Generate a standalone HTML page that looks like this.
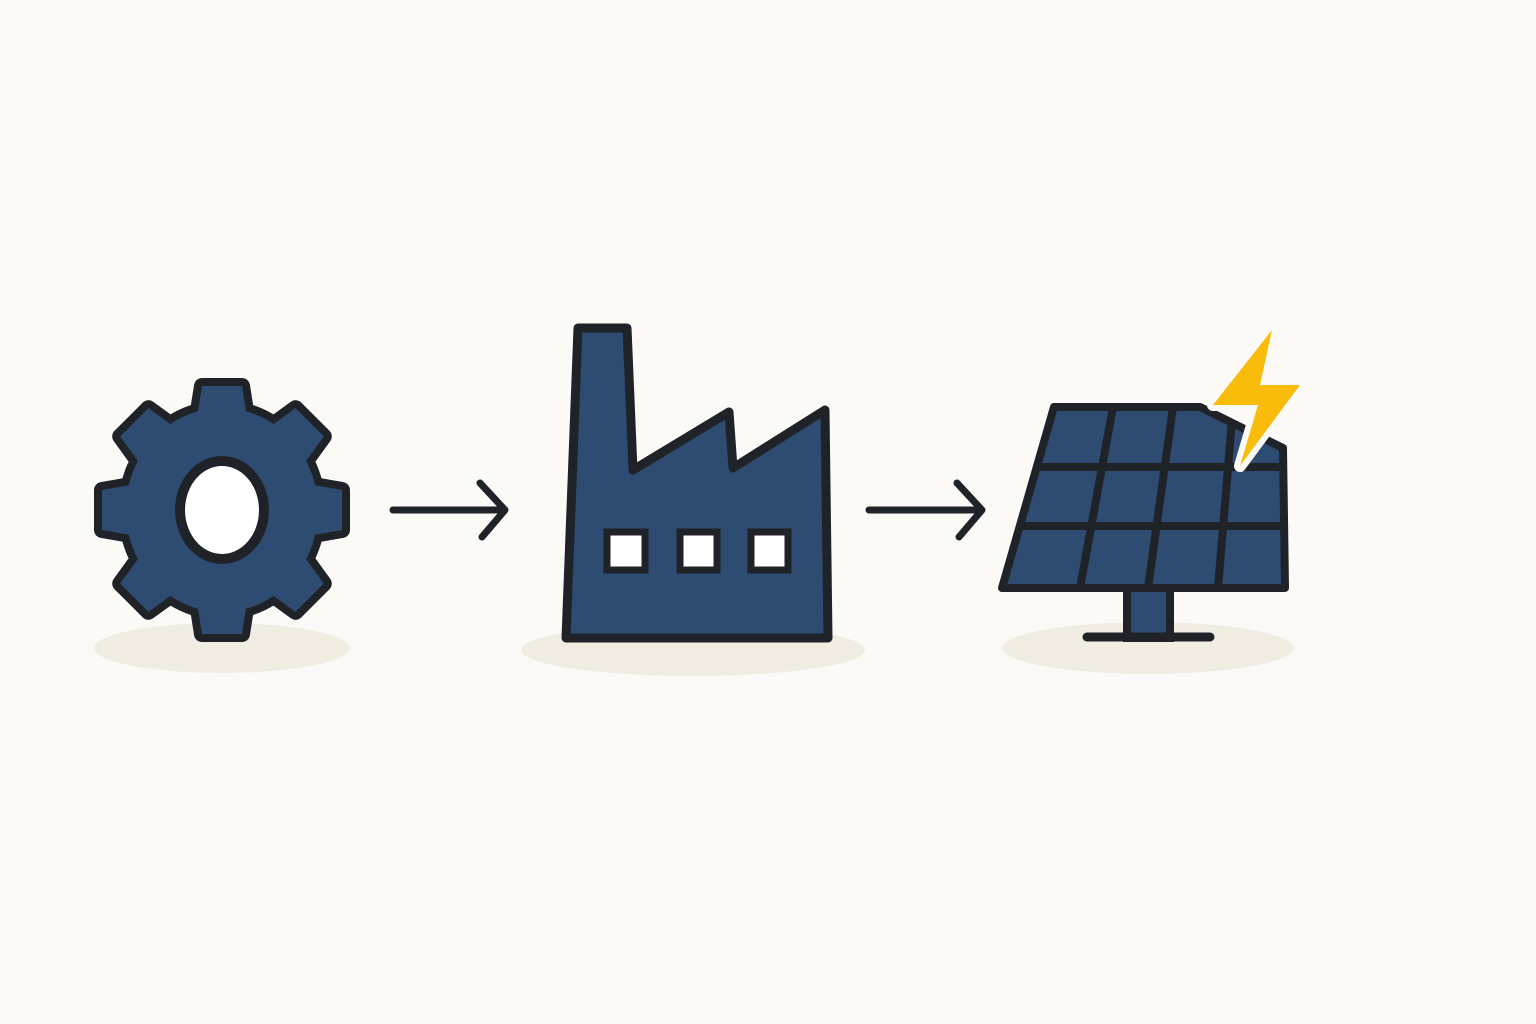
<!DOCTYPE html>
<html><head><meta charset="utf-8"><style>html,body{margin:0;padding:0;background:#fbfaf7}svg{display:block}</style></head>
<body>
<svg width="1536" height="1024" viewBox="0 0 1536 1024" xmlns="http://www.w3.org/2000/svg">
<defs>
  <polygon id="t" points="-27,-80 27,-80 20,-124 -20,-124"/>
  <polygon id="ts" points="-27,-80 27,-80 20,-120 -20,-120"/>
  <g id="gearshape">
    <ellipse cx="0" cy="0" rx="96" ry="102"/>
    <use href="#t"/>
    <use href="#t" transform="rotate(45)"/>
    <use href="#ts" transform="rotate(90)"/>
    <use href="#t" transform="rotate(135)"/>
    <use href="#t" transform="rotate(180)"/>
    <use href="#t" transform="rotate(225)"/>
    <use href="#ts" transform="rotate(270)"/>
    <use href="#t" transform="rotate(315)"/>
  </g>
</defs>
<rect width="1536" height="1024" fill="#fbfaf7"/>
<ellipse cx="222" cy="648" rx="128" ry="25" fill="#f2ede3"/>
<ellipse cx="693" cy="650" rx="172" ry="26" fill="#f2ede3"/>
<ellipse cx="1148" cy="648" rx="146" ry="26" fill="#f2ede3"/>

<!-- gear -->
<g transform="translate(222,510)">
  <use href="#gearshape" fill="#1f2328" stroke="#1f2328" stroke-width="16" stroke-linejoin="round"/>
  <use href="#gearshape" fill="#2e4b72"/>
  <ellipse cx="0" cy="0" rx="42" ry="49" fill="#fff" stroke="#1f2328" stroke-width="10"/>
</g>

<!-- arrows -->
<g stroke="#1f2328" stroke-width="7" stroke-linecap="round" stroke-linejoin="round" fill="none">
  <line x1="393" y1="510" x2="503" y2="510"/>
  <polyline points="480,483 505,510 482,537"/>
  <line x1="869" y1="510" x2="980" y2="510"/>
  <polyline points="957,483 982,510 959,537"/>
</g>

<!-- factory -->
<path d="M566,638 L578,328 L627,328 L633,470 L729,412 L733,468 L825,410 L828,638 Z" fill="#2e4b72" stroke="#1f2328" stroke-width="9" stroke-linejoin="round"/>
<g fill="#fff" stroke="#1f2328" stroke-width="7">
  <rect x="607" y="532" width="38" height="38"/>
  <rect x="680" y="532" width="37" height="38"/>
  <rect x="751" y="532" width="37" height="38"/>
</g>

<!-- solar panel -->
<rect x="1127" y="588" width="43" height="50" fill="#2e4b72" stroke="#1f2328" stroke-width="8"/>
<line x1="1087" y1="637" x2="1210" y2="637" stroke="#1f2328" stroke-width="9" stroke-linecap="round"/>
<path d="M1054,407 L1200,407 L1283,448 L1285,588 L1002,588 Z" fill="#2e4b72" stroke="#1f2328" stroke-width="8" stroke-linejoin="round"/>
<g stroke="#1f2328" stroke-width="8">
  <line x1="1035" y1="467" x2="1283" y2="467"/>
  <line x1="1020" y1="526" x2="1284" y2="526"/>
  <line x1="1113" y1="407" x2="1080" y2="588"/>
  <line x1="1173" y1="407" x2="1148" y2="588"/>
  <line x1="1232" y1="420" x2="1218" y2="588"/>
</g>
<path d="M1272,330 L1213,405 L1258,405 L1240,466 L1300,385 L1260,385 Z" fill="#f9bc0b" stroke="#fbfaf7" stroke-width="12" stroke-linejoin="round" paint-order="stroke"/>
</svg>
</body></html>
